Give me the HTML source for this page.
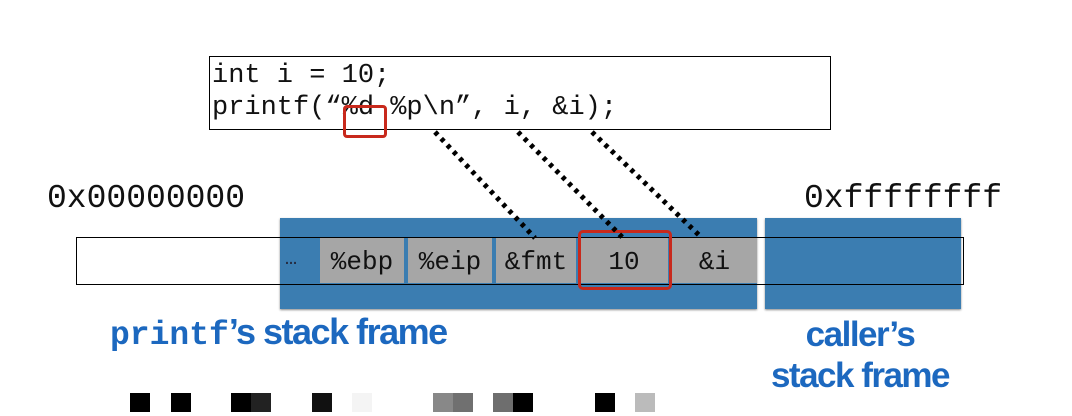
<!DOCTYPE html>
<html><head><meta charset="utf-8"><style>
body{margin:0;width:1072px;height:416px;background:#fff;position:relative;overflow:hidden;font-family:"Liberation Mono",monospace}
.a{position:absolute}
.cell{position:absolute;top:238px;height:45px;background:#a6a6a6;font-size:26px;color:#111;text-align:center;line-height:49px}
.lbl{position:absolute;color:#1c68bf;font-family:"Liberation Sans",sans-serif;font-weight:bold;font-size:35px;letter-spacing:-1.5px}
.sq{position:absolute;top:393px;width:20px;height:19px}
</style></head><body>
<div class="a" style="left:209px;top:56px;width:620px;height:72px;border:1px solid #000"></div>
<div class="a" style="left:212px;top:60px;font-size:27px;line-height:32px;color:#111;white-space:pre">int i = 10;
printf(“%d %p\n”, i, &amp;i);</div>
<div class="a" style="left:343px;top:105px;width:38px;height:27px;border:3px solid #c8291c;border-radius:4px"></div>
<div class="a" style="left:47px;top:180px;font-size:33px;color:#111">0x00000000</div>
<div class="a" style="left:804px;top:180px;font-size:33px;color:#111">0xffffffff</div>
<div class="a" style="left:280px;top:218px;width:477px;height:91px;background:#3b7db1;box-shadow:0 1px 2px #888"></div>
<div class="a" style="left:765px;top:218px;width:196px;height:91px;background:#3b7db1;box-shadow:0 1px 2px #888"></div>
<div class="a" style="left:76px;top:237px;width:886px;height:46px;border:1px solid #000"></div>
<div class="a" style="left:285px;top:248px;font-size:20px;color:#223">…</div>
<div class="cell" style="left:320px;width:84px">%ebp</div>
<div class="cell" style="left:408px;width:84px">%eip</div>
<div class="cell" style="left:496px;width:80px">&amp;fmt</div>
<div class="cell" style="left:580px;width:88px">10</div>
<div class="cell" style="left:672px;width:85px">&amp;i</div>
<div class="a" style="left:578px;top:230px;width:88px;height:54px;border:3px solid #c8291c;border-radius:5px"></div>
<svg class="a" style="left:0;top:0" width="1072" height="416">
<g stroke="#000" stroke-width="5" stroke-dasharray="4,5">
<line x1="435" y1="132" x2="535" y2="238"/>
<line x1="518" y1="132" x2="623" y2="238"/>
<line x1="592" y1="132" x2="702" y2="238"/>
</g></svg>
<div class="lbl" style="left:110px;top:311px;font-size:36px"><span style="font-family:'Liberation Mono',monospace;letter-spacing:0;font-size:33px">printf</span>’s stack frame</div>
<div class="lbl" style="left:760px;top:314px;width:200px;text-align:center;line-height:41px">caller’s<br>stack frame</div>
<div class="sq" style="left:130px;background:#000"></div>
<div class="sq" style="left:171px;background:#000"></div>
<div class="sq" style="left:231px;background:#000"></div>
<div class="sq" style="left:251px;background:#222"></div>
<div class="sq" style="left:312px;background:#111"></div>
<div class="sq" style="left:352px;background:#f4f4f4"></div>
<div class="sq" style="left:433px;background:#888"></div>
<div class="sq" style="left:453px;background:#707070"></div>
<div class="sq" style="left:493px;background:#6e6e6e"></div>
<div class="sq" style="left:513px;background:#000"></div>
<div class="sq" style="left:595px;background:#000"></div>
<div class="sq" style="left:635px;background:#bbb"></div>
</body></html>
